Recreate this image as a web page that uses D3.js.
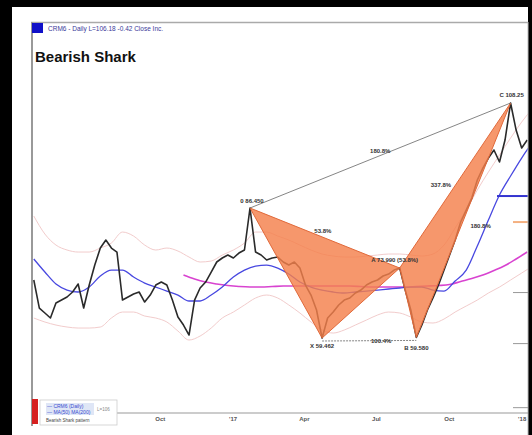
<!DOCTYPE html>
<html><head><meta charset="utf-8">
<script src="https://cdn.jsdelivr.net/npm/d3@7"></script>
<style>
html,body{margin:0;padding:0;background:#000;}
svg{display:block;}
text{font-family:"Liberation Sans",Arial,sans-serif;}
</style></head><body>
<svg id="c" width="532" height="435"></svg>
<script>
// ---- data ----
const priceStart = "2016-04-25";           // weekly closes from this date
const closes = [71.50,65.68,64.65,63.61,66.72,67.34,67.97,69.01,70.67,65.68,
  70.46,74.61,78.14,79.80,78.14,77.31,67.34,67.97,68.59,69.01,
  66.93,68.38,70.46,71.08,70.46,67.34,63.81,62.15,60.08,67.34,
  69.84,71.08,73.16,75.24,76.07,76.69,76.07,77.10,77.73,86.45,
  77.31,76.69,75.65,76.07,76.27,75.24,74.61,75.24,73.99,70.46,
  68.38,65.27,59.46,63.61,64.85,66.31,67.34,67.76,68.80,69.42,
  70.46,71.08,71.50,72.33,72.74,73.57,73.99,69.42,65.27,59.58,
  62.15,65.27,67.76,70.46,73.57,76.69,79.80,83.54,86.03,88.52,
  92.26,94.75,96.83,98.49,96.00,100.57,108.25,102.64,98.91,100.57];

const ma50Start = "2016-04-25";            // every two weeks
const ma50 = [75.86,73.16,70.67,69.42,69.01,70.04,72.33,73.57,73.57,72.12,
  70.87,70.04,69.21,68.38,67.14,67.14,68.38,70.04,72.12,73.57,
  74.40,74.61,73.99,72.74,71.08,70.04,69.42,69.01,68.80,69.01,
  69.21,69.42,69.63,69.84,70.04,70.04,69.42,69.21,71.29,73.57,
  78.56,83.96,89.15,93.09,96.83,100.15];

const ma200Start = "2016-10-31";           // every two weeks
const ma200 = [72.54,71.71,71.08,70.67,70.36,70.15,70.04,70.04,70.15,70.25,
  70.25,70.25,70.25,70.25,70.25,70.25,70.15,70.04,70.04,70.04,
  70.04,70.15,70.25,70.36,70.56,71.19,71.81,72.54,73.47,74.51,
  75.86,77.31];

const bandStart = "2016-04-25";            // every two weeks
const upperBand = [84.79,81.05,78.76,77.73,77.31,77.31,78.14,79.18,81.46,80.63,
  78.76,77.73,78.14,77.52,76.27,75.24,75.44,76.69,77.73,79.18,
  81.46,81.46,80.63,79.80,78.76,77.73,76.90,76.48,76.27,76.27,
  76.48,76.69,76.90,76.90,76.69,76.48,76.90,78.76,82.29,86.03,
  90.19,93.92,97.45,100.98,104.30,107.21];
const lowerBand = [63.61,62.78,62.15,61.74,61.53,61.53,61.74,63.61,64.85,64.85,
  64.02,63.61,62.78,60.91,59.04,59.87,61.53,63.61,64.85,66.31,
  67.76,68.38,67.76,66.31,64.65,62.78,61.12,60.49,61.12,62.15,
  63.19,64.23,64.85,64.65,63.81,62.78,62.57,63.40,64.85,66.10,
  67.34,68.80,70.04,71.50,72.95,74.40];

const patternNames  = ["0","X","A","B","C"];
const patternDates  = ["2017-01-23","2017-04-24","2017-07-31","2017-08-21","2017-12-18"];
const patternPrices = [86.45, 59.46, 73.99, 59.58, 108.25];
const patternText   = ["0 86.450","X 59.462","A 73.990 (53.8%)","B 59.580","C 108.25"];
const ratioText = {zeroC:"180.8%", xb:"100.4%", zeroA:"53.8%", ac:"337.8%", bc:"180.8%"};

const tickDates  = ["2016-10-01","2017-01-01","2017-04-01","2017-07-01","2017-10-01","2018-01-01"];
const tickLabels = ["Oct","'17","Apr","Jul","Oct","'18"];
const rightTicks = [69.0, 58.4, 45.1];

const headerText = "CRM6 - Daily   L=106.18   -0.42   Close Inc.";
const titleText = "Bearish Shark";

// ---- drawing ----
const parse = d3.timeParse("%Y-%m-%d");
const svg = d3.select("#c");

svg.append("rect").attr("x",12).attr("y",7).attr("width",516).attr("height",428).attr("fill","#fff");

const x = d3.scaleTime().domain([parse("2016-04-24"), parse("2018-01-09")]).range([33, 528]);
const y = d3.scaleLinear().domain([60, 110]).range([335.4, 94.6]);

const series = (start, stepDays, vals) => vals.map((v,i)=>({d:d3.timeDay.offset(parse(start), i*stepDays), v}));
const priceData = series(priceStart, 7, closes);
const ma50Data = series(ma50Start, 14, ma50);
const ma200Data = series(ma200Start, 14, ma200);
const upData = series(bandStart, 14, upperBand);
const loData = series(bandStart, 14, lowerBand);

svg.append("clipPath").attr("id","plot").append("rect").attr("x",33).attr("y",23).attr("width",495).attr("height",389);
const g = svg.append("g").attr("clip-path","url(#plot)");

const lineSmooth = d3.line().x(d=>x(d.d)).y(d=>y(d.v)).curve(d3.curveMonotoneX);
const lineRaw = d3.line().x(d=>x(d.d)).y(d=>y(d.v));

g.append("path").attr("d",lineSmooth(upData)).attr("fill","none").attr("stroke","#f2cccc").attr("stroke-width",1);
g.append("path").attr("d",lineSmooth(loData)).attr("fill","none").attr("stroke","#f2cccc").attr("stroke-width",1);
g.append("path").attr("d",lineSmooth(ma200Data)).attr("fill","none").attr("stroke","#d843d0").attr("stroke-width",1.6);
g.append("path").attr("d",lineSmooth(ma50Data)).attr("fill","none").attr("stroke","#4848e0").attr("stroke-width",1.3);
g.append("path").attr("d",lineRaw(priceData)).attr("fill","none").attr("stroke","#2a2a2a").attr("stroke-width",1.6).attr("stroke-linejoin","round");

// pattern
const P = patternDates.map((d,i)=>({d:parse(d), v:patternPrices[i], n:patternNames[i], t:patternText[i]}));
const px = p => x(p.d), py = p => y(p.v);
const tri = d3.line().x(px).y(py);
g.append("path").attr("d",tri([P[0],P[1],P[2]])+"Z").attr("fill","#f4804c").attr("fill-opacity",0.82)
  .attr("stroke","#e0693a").attr("stroke-width",1);
g.append("path").attr("d",tri([P[2],P[3],P[4]])+"Z").attr("fill","#f4804c").attr("fill-opacity",0.82)
  .attr("stroke","#e0693a").attr("stroke-width",1);
// connector lines
g.append("line").attr("x1",px(P[0])).attr("y1",py(P[0])).attr("x2",px(P[4])).attr("y2",py(P[4]))
  .attr("stroke","#666").attr("stroke-width",0.8);
g.append("line").attr("x1",px(P[1])).attr("y1",py(P[1])+3).attr("x2",px(P[3])).attr("y2",py(P[3])+3)
  .attr("stroke","#666").attr("stroke-width",0.8).attr("stroke-dasharray","2,1");

const lab = (tx,ty,s,anchor="middle",w="bold")=>svg.append("text").attr("x",tx).attr("y",ty).attr("text-anchor",anchor)
  .attr("font-size",6).attr("font-weight",w).attr("fill","#333").text(s);
const mid = (a,b)=>[(px(a)+px(b))/2,(py(a)+py(b))/2];
let m = mid(P[0],P[4]); lab(m[0], m[1]-3, ratioText.zeroC);
m = mid(P[1],P[3]); lab(m[0]+12, m[1]+5, ratioText.xb);
m = mid(P[0],P[2]); lab(m[0]-2, m[1]-5, ratioText.zeroA);
m = mid(P[2],P[4]); lab(m[0]-4, m[1]+1, ratioText.ac, "end");
m = mid(P[3],P[4]); lab(m[0]+7, m[1]+8, ratioText.bc, "start");
lab(px(P[0])+2, py(P[0])-5, P[0].t);
lab(px(P[1]), py(P[1])+10, P[1].t);
lab(px(P[2])-5, py(P[2])-6, P[2].t);
lab(px(P[3]), py(P[3])+13, P[3].t);
lab(px(P[4])+1, py(P[4])-6, P[4].t);

// right-side markers
svg.append("line").attr("x1",497).attr("x2",528).attr("y1",y(ma50[43])+20).attr("y2",y(ma50[43])+20).attr("stroke","#3434d0").attr("stroke-width",2);
svg.append("line").attr("x1",513).attr("x2",528).attr("y1",y(upperBand[38])-6).attr("y2",y(upperBand[38])-6).attr("stroke","#f4b080").attr("stroke-width",2);

// frame lines
svg.append("line").attr("x1",31).attr("x2",528).attr("y1",22.5).attr("y2",22.5).attr("stroke","#aaa").attr("stroke-width",1.5);
svg.append("line").attr("x1",32).attr("x2",32).attr("y1",22).attr("y2",426).attr("stroke","#999").attr("stroke-width",2);
svg.append("line").attr("x1",528).attr("x2",528).attr("y1",22).attr("y2",435).attr("stroke","#bbb").attr("stroke-width",1);

// x axis
const xa = svg.append("g").attr("transform","translate(0,413)")
  .call(d3.axisBottom(x).tickValues(tickDates.map(parse)).tickFormat((d,i)=>tickLabels[i]).tickSize(0).tickPadding(4));
xa.select(".domain").attr("stroke","#999").attr("d","M117,0H528");
xa.selectAll("text").attr("font-size",6).attr("font-weight","bold").attr("fill","#555").attr("font-family","Liberation Sans, Arial");

// right axis ticks
const ra = svg.append("g").attr("transform","translate(528,0)")
  .call(d3.axisLeft(y).tickValues(rightTicks).tickSize(15).tickFormat(""));
ra.select(".domain").remove();
ra.selectAll("line").attr("stroke","#999");

// header
svg.append("rect").attr("x",32).attr("y",23).attr("width",11).attr("height",10).attr("fill","#1010c8");
svg.append("text").attr("x",48).attr("y",31).attr("font-size",6.5).attr("fill","#3a3a9a").text(headerText);
svg.append("text").attr("x",35).attr("y",62).attr("font-size",15).attr("font-weight","bold").attr("fill","#111").text(titleText);

// legend box bottom-left
svg.append("rect").attr("x",32).attr("y",399).attr("width",6).attr("height",25).attr("fill","#d62020");
svg.append("rect").attr("x",40).attr("y",400).attr("width",77).attr("height",25).attr("fill","#fff").attr("stroke","#ccc").attr("stroke-width",0.8);
svg.append("rect").attr("x",46).attr("y",403).attr("width",48).attr("height",12).attr("fill","#dfe6f6");
svg.append("text").attr("x",47).attr("y",408).attr("font-size",5).attr("fill","#3a4ad0").text("— CRM6 (Daily)");
svg.append("text").attr("x",47).attr("y",414).attr("font-size",5).attr("fill","#3a4ad0").text("— MA(50) MA(200)");
svg.append("text").attr("x",97).attr("y",411).attr("font-size",4.5).attr("fill","#888").text("L=106");
svg.append("text").attr("x",46).attr("y",422).attr("font-size",4.5).attr("fill","#444").text("Bearish Shark pattern");
</script>
</body></html>
